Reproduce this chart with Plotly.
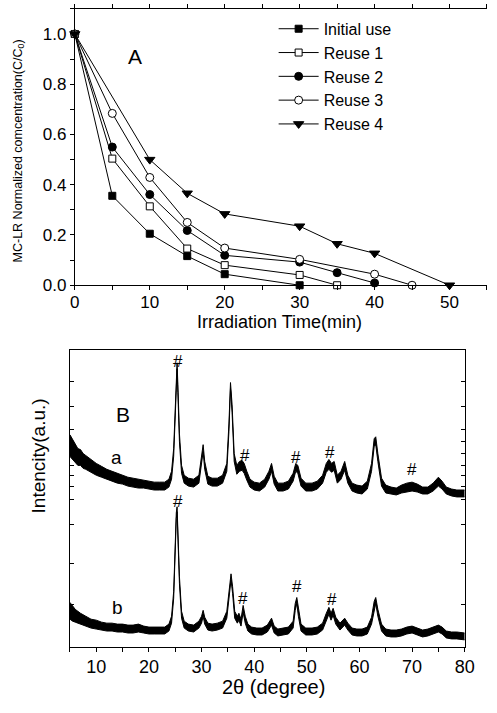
import plotly.graph_objects as go

W, H = 497, 713

# ---------------- Panel A data ----------------
t_initial = [0, 5, 10, 15, 20, 30]
c_initial = [1.0, 0.356, 0.205, 0.116, 0.044, 0.0]
t_reuse1 = [0, 5, 10, 15, 20, 30, 35]
c_reuse1 = [1.0, 0.504, 0.314, 0.146, 0.080, 0.041, 0.0]
t_reuse2 = [0, 5, 10, 15, 20, 30, 35, 40]
c_reuse2 = [1.0, 0.550, 0.361, 0.218, 0.119, 0.092, 0.050, 0.009]
t_reuse3 = [0, 5, 10, 15, 20, 30, 40, 45]
c_reuse3 = [1.0, 0.684, 0.429, 0.250, 0.148, 0.103, 0.044, 0.0]
t_reuse4 = [0, 10, 15, 20, 30, 35, 40, 50]
c_reuse4 = [1.0, 0.500, 0.366, 0.284, 0.235, 0.165, 0.127, 0.0]
series_names = ["Initial use", "Reuse 1", "Reuse 2", "Reuse 3", "Reuse 4"]

# ---------------- Panel B data (noise band: upper / lower envelope) ----------------
tt_a = [5.0, 5.5, 6, 6.5, 7, 7.5, 8, 9, 10, 11, 12, 13, 14, 15, 16, 17, 18, 19, 20, 21, 22, 23,
        23.8, 24.3, 24.7, 25.0, 25.2, 25.35, 25.5, 25.8, 26.2, 26.7, 27.5, 28.5, 29.5, 30.0, 30.3,
        30.6, 31.2, 32, 33, 34, 34.8, 35.2, 35.5, 35.8, 36.2, 36.7, 37.2, 37.7, 38.1, 38.6, 39.2,
        40, 41, 42, 42.8, 43.3, 43.8, 44.5, 45.5, 46.5, 47.4, 47.9, 48.3, 48.9, 49.8, 51, 52, 53,
        53.7, 54.2, 54.7, 55.2, 55.8, 56.5, 57.2, 57.8, 58.6, 59.5, 60.5, 61.5, 62.3, 62.8, 63.1,
        63.5, 64.2, 65, 66, 67, 68, 69, 70, 71, 72, 73, 74, 75, 75.7, 76.5, 77.5, 78.5, 80]
ia_up = [215, 210, 206, 201, 200, 196, 194, 190, 186, 183, 180, 178, 176, 174, 172, 171, 170, 169,
         168, 167, 167, 167, 170, 178, 201, 246, 281, 288, 266, 216, 184, 174, 171, 170, 174, 191,
         205, 188, 173, 171, 171, 174, 186, 226, 268, 246, 196, 184, 188, 189, 186, 178, 170, 167,
         166, 170, 178, 186, 173, 166, 166, 168, 176, 186, 184, 171, 166, 166, 168, 174, 186, 190,
         186, 188, 174, 178, 188, 174, 166, 164, 163, 168, 186, 211, 213, 196, 171, 164, 162, 161,
         164, 166, 167, 165, 162, 162, 166, 172, 168, 162, 160, 159, 159]
ia_lo = [193, 190, 187, 184, 184, 181, 180, 177, 174, 172, 170, 168, 166, 165, 163, 162, 161, 161,
         160, 159, 159, 159, 162, 170, 193, 238, 274, 282, 258, 208, 176, 166, 163, 162, 166, 183,
         198, 180, 165, 163, 163, 166, 178, 218, 262, 238, 188, 175, 178, 179, 176, 169, 162, 159,
         158, 162, 170, 178, 165, 158, 158, 160, 168, 178, 176, 163, 158, 158, 160, 166, 177, 180,
         177, 179, 166, 170, 179, 166, 158, 156, 155, 160, 178, 203, 205, 188, 163, 156, 155, 154,
         156, 157, 158, 157, 155, 155, 158, 163, 160, 155, 153, 152, 152]

tt_b = [5.0, 5.5, 6, 6.5, 7, 8, 9, 10, 11, 12, 13, 14, 15, 16, 17, 18, 19, 20, 21, 22, 23,
        23.8, 24.3, 24.7, 25.0, 25.2, 25.35, 25.5, 25.8, 26.2, 26.7, 27.5, 28.5, 29.5, 30.0, 30.3,
        30.6, 31.2, 32, 33, 34, 34.8, 35.2, 35.6, 35.9, 36.3, 36.8, 37.1, 37.5, 37.9, 38.3, 38.8,
        39.5, 40.5, 41.5, 42.5, 43.3, 43.8, 44.5, 45.5, 46.5, 47.4, 47.8, 48.1, 48.4, 48.9, 49.8,
        51, 52, 53, 53.7, 54.2, 54.6, 55.0, 55.5, 56.3, 57.2, 57.8, 58.6, 59.5, 60.5, 61.5, 62.3,
        62.8, 63.1, 63.5, 64.2, 65, 66, 67, 68, 69, 70, 71, 72, 73, 74, 75, 75.7, 76.5, 77.5,
        78.5, 80]
ib_up = [45, 41, 38, 36, 34, 31, 28, 27, 25, 24, 24, 23, 23, 22, 22, 23, 21, 20, 20, 20, 20,
         23, 31, 56, 111, 136, 142, 121, 71, 36, 26, 23, 22, 26, 31, 37, 30, 24, 23, 24, 26, 36,
         56, 74, 61, 36, 31, 34, 28, 42, 31, 23, 20, 19, 19, 22, 29, 21, 18, 19, 20, 26, 44, 50,
         38, 23, 19, 19, 20, 24, 34, 40, 34, 39, 30, 24, 29, 24, 19, 18, 18, 20, 30, 46, 50, 38,
         23, 18, 17, 17, 18, 20, 21, 19, 17, 18, 20, 22, 20, 16, 15, 15, 14]
ib_lo = [28, 26, 25, 24, 23, 21, 19, 18, 17, 16, 16, 15, 15, 14, 14, 15, 14, 13, 13, 13, 13,
         16, 24, 49, 104, 130, 137, 114, 64, 29, 19, 16, 15, 19, 24, 31, 23, 17, 16, 17, 19, 29,
         49, 68, 54, 29, 24, 27, 21, 35, 24, 16, 13, 12, 12, 15, 22, 14, 11, 12, 13, 19, 37, 44,
         31, 16, 12, 12, 13, 17, 27, 33, 27, 32, 23, 17, 22, 17, 12, 11, 11, 13, 23, 39, 44, 31,
         16, 11, 10, 10, 11, 13, 14, 12, 10, 11, 13, 15, 13, 9, 8, 8, 7]

FONT = "Liberation Sans, Arial, sans-serif"

fig = go.Figure()

styles = [
    dict(symbol="square", size=7, color="black", line=dict(color="black", width=1)),
    dict(symbol="square", size=7, color="white", line=dict(color="black", width=1)),
    dict(symbol="circle", size=8, color="black", line=dict(color="black", width=1)),
    dict(symbol="circle", size=8, color="white", line=dict(color="black", width=1)),
    dict(symbol="triangle-down", size=9, color="black", line=dict(color="black", width=1)),
]
xs = [t_initial, t_reuse1, t_reuse2, t_reuse3, t_reuse4]
ys = [c_initial, c_reuse1, c_reuse2, c_reuse3, c_reuse4]
for name, x, y, m in zip(series_names, xs, ys, styles):
    fig.add_trace(go.Scatter(x=x, y=y, mode="lines+markers", name=name,
                             line=dict(color="black", width=1), marker=m,
                             xaxis="x", yaxis="y", cliponaxis=False))

# XRD bands
for tt, lo, up in [(tt_a, ia_lo, ia_up), (tt_b, ib_lo, ib_up)]:
    fig.add_trace(go.Scatter(x=tt, y=lo, mode="lines", line=dict(color="black", width=1),
                             showlegend=False, xaxis="x2", yaxis="y2", hoverinfo="skip"))
    fig.add_trace(go.Scatter(x=tt, y=up, mode="lines", line=dict(color="black", width=1),
                             fill="tonexty", fillcolor="black",
                             showlegend=False, xaxis="x2", yaxis="y2", hoverinfo="skip"))

def px(x):
    return x / W

def py(y):
    return 1 - y / H

tickfont = dict(family=FONT, size=17, color="black")
minor_style = dict(ticklen=4, tickcolor="black", ticks="outside", showgrid=False)

yb_ticks = [269, 244, 220, 208, 196, 184, 174, 163, 149, 124, 84, 43]

fig.update_layout(
    width=W, height=H,
    margin=dict(l=0, r=0, t=0, b=0),
    paper_bgcolor="white", plot_bgcolor="white",
    font=dict(family=FONT, color="black"),
    showlegend=True,
    legend=dict(x=px(277), y=py(12), xanchor="left", yanchor="top",
                traceorder="normal",
                bgcolor="rgba(0,0,0,0)", font=dict(family=FONT, size=16, color="black"),
                itemwidth=40, tracegroupgap=0),
    xaxis=dict(domain=[px(72), 1.0], range=[0, 55], anchor="y",
               tick0=0, dtick=10, minor=dict(dtick=5, **minor_style),
               showline=True, linecolor="black", linewidth=1, mirror="ticks",
               ticks="outside", ticklen=4, tickcolor="black", showgrid=False,
               ticklabelstandoff=-3,
               zeroline=False, tickfont=tickfont),
    yaxis=dict(domain=[py(289.3), py(9)], range=[0, 1.1], anchor="x",
               tick0=0, dtick=0.2, tickformat=".1f", minor=dict(dtick=0.1, **minor_style),
               showline=True, linecolor="black", linewidth=1,
               ticks="outside", ticklen=4, tickcolor="black", showgrid=False,
               zeroline=False, tickfont=tickfont),
    xaxis2=dict(domain=[px(67), px(474)], range=[5, 80], anchor="y2",
                tick0=0, dtick=10, minor=dict(dtick=5, **minor_style),
                showline=True, linecolor="black", linewidth=1, mirror=True,
                ticks="outside", ticklen=4, tickcolor="black", showgrid=False,
                zeroline=False, tickfont=dict(family=FONT, size=18, color="black")),
    xaxis3=dict(overlaying="x2", side="top", anchor="y2", range=[5, 80],
                tickmode="array", tickvals=[15, 30, 45, 60, 75], showticklabels=False,
                ticks="inside", ticklen=4, tickcolor="black", showgrid=False,
                showline=False, zeroline=False),
    yaxis2=dict(domain=[py(656), py(355)], range=[0, 301], anchor="x2",
                tickmode="array", tickvals=yb_ticks, showticklabels=False,
                showline=True, linecolor="black", linewidth=1, mirror="ticks",
                ticks="inside", ticklen=4, tickcolor="black", showgrid=False,
                zeroline=False),
)

ann = []
def label(text, x, y, size, angle=0):
    ann.append(dict(text=text, x=px(x), y=py(y), xref="paper", yref="paper",
                    showarrow=False, textangle=angle, xanchor="center", yanchor="middle",
                    font=dict(family=FONT, size=size, color="black")))

label("MC-LR Normalized comcentration(C/C<sub>0</sub>)", 14, 153, 12.5, -90)
label("Irradiation Time(min)", 283, 327, 18)
label("A", 134, 57, 21)
label("B", 122, 420, 21)
label("a", 115, 464, 19)
label("b", 116, 616, 19)
label("Intencity(a.u.)", 35, 462, 19, -90)
label("2θ (degree)", 277, 697, 20)
for (hx, hy) in [(178.5, 367), (178, 509), (247.5, 461.5), (300, 464.5), (335, 459),
                 (419.8, 476.5), (245.8, 607), (300.8, 595), (336.7, 608)]:
    label("#", hx, hy, 17)

fig.update_layout(annotations=ann)
fig.write_html("out.html")
